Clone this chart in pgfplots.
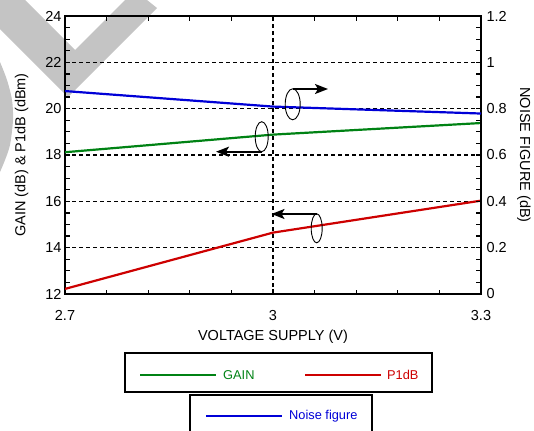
\documentclass[border=0pt]{standalone}
\usepackage{fontspec}
\setmainfont{Liberation Sans}
\usepackage{pgfplots}
\pgfplotsset{compat=1.18}
\usetikzlibrary{arrows.meta}
\definecolor{cgreen}{RGB}{0,130,20}
\definecolor{cred}{RGB}{205,0,0}
\definecolor{cblue}{RGB}{0,0,215}
\definecolor{wm}{RGB}{196,196,196}

\pgfplotsset{
  base/.style={
    at={(65bp,-294bp)}, anchor=south west, scale only axis,
    width=416bp, height=278bp,
    xmin=2.7, xmax=3.3,
    tick label style={font=\fontsize{14.5bp}{17bp}\selectfont},
    label style={font=\fontsize{14.5bp}{17bp}\selectfont},
    /pgf/number format/assume math mode=true,
    tick align=inside,
    major tick length=5bp, minor tick length=4.5bp,
    axis line style={line width=2.6bp},
    every tick/.style={black, line width=1.2bp},
  }
}

\begin{document}
\begin{tikzpicture}
\useasboundingbox (0,0) rectangle (534bp,-431bp);
\begin{scope}[x=1bp,y=-1bp]
\fill[wm] (0,0)--(25,0)--(75,50)--(125,0)--(147,0)--(157,8)--(68,97)--(0,29)--cycle;
\fill[wm] plot[smooth] coordinates {(0,62)(7,80)(12,100)(13,120)(10,145)(5,160)(0,172)} -- cycle;
\end{scope}

\begin{axis}[base,
  ymin=12, ymax=24, ytick={12,14,...,24}, minor y tick num=3,
  xtick={2.7,3,3.3}, xticklabels={2.7,3,3.3}, minor x tick num=4,
  ytick pos=left,
  xticklabel style={yshift=-13bp},
  ymajorgrids, xmajorgrids,
  grid style={black, line width=1.4bp, dash pattern=on 4bp off 3bp},
  xlabel={VOLTAGE SUPPLY (V)},
  ylabel={GAIN (dB) \& P1dB (dBm)},
  xlabel style={at={(axis description cs:0.5,-0.155)}, anchor=center},
  ylabel style={at={(axis description cs:-0.104,0.5)}, anchor=center, rotate=0},
]
\addplot[cgreen, line width=2.2bp] coordinates {(2.7,18.12) (3.0,18.88) (3.3,19.38)};
\addplot[cred, line width=2.2bp] coordinates {(2.7,12.22) (3.0,14.65) (3.3,16.03)};
\end{axis}

\begin{axis}[base,
  ymin=0, ymax=1.2, ytick={0,0.2,...,1.2}, minor y tick num=3,
  axis y line*=right, hide x axis,
  yticklabel style={xshift=2bp},
  ylabel={NOISE FIGURE (dB)},
  ylabel style={at={(axis description cs:1.103,0.5)}, anchor=center, rotate=180},
]
\addplot[cblue, line width=2.2bp] coordinates {(2.7,0.876) (3.0,0.809) (3.3,0.779)};
\end{axis}

\begin{scope}[x=1bp,y=-1bp]
% annotations
\draw[line width=0.9bp] (261.7,136.7) ellipse (6.5 and 15);
\draw[line width=2bp, -{Stealth[length=13bp,width=10bp,inset=3bp]}] (261.7,151.7) -- (216,151.7);
\draw[line width=0.9bp] (292.7,104.3) ellipse (7.5 and 15.5);
\draw[line width=2bp, -{Stealth[length=13bp,width=10bp,inset=3bp]}] (292.7,89) -- (328,89);
\draw[line width=0.9bp] (316.7,228.3) ellipse (5.5 and 14.5);
\draw[line width=2bp, -{Stealth[length=13bp,width=10bp,inset=3bp]}] (316.7,214) -- (271.5,214);
% legend
\draw[line width=2bp] (125,353) rectangle (432,392);
\draw[cgreen, line width=2.2bp] (140,375) -- (216,375);
\node[anchor=west, inner sep=0, text=cgreen, font=\fontsize{12.8bp}{15bp}\selectfont] at (223,375) {GAIN};
\draw[cred, line width=2.2bp] (305,375) -- (381,375);
\node[anchor=west, inner sep=0, text=cred, font=\fontsize{12.8bp}{15bp}\selectfont] at (387,375) {P1dB};
\draw[line width=2bp] (190,445) -- (190,395) -- (372,395) -- (372,445);
\draw[cblue, line width=2.2bp] (206,416) -- (282,416);
\node[anchor=west, inner sep=0, text=cblue, font=\fontsize{12.8bp}{15bp}\selectfont] at (289,416) {Noise figure};
\end{scope}
\end{tikzpicture}
\end{document}
